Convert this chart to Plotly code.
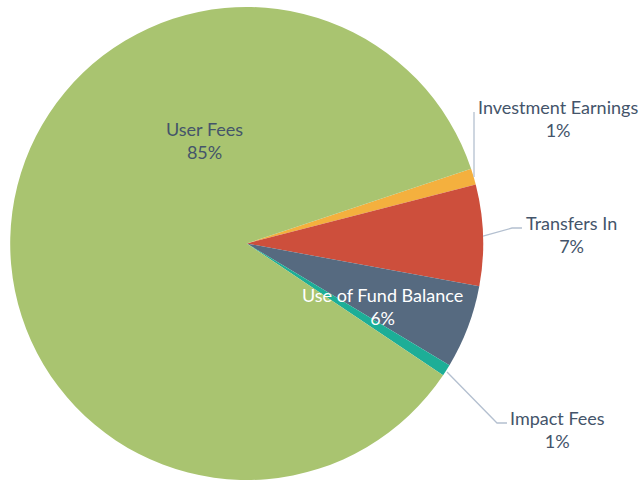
import plotly.graph_objects as go

labels = ["Investment Earnings", "Transfers In", "Use of Fund Balance", "Impact Fees", "User Fees"]
values = [1.1, 6.9, 5.7, 0.8, 85.4]
colors = ["#F4B03E", "#CD4F3C", "#566A80", "#1DAE97", "#A9C470"]

W, H = 641, 480
TXT = "#44546A"
LINE = "#B4C0D0"
FONT = "Lato"

fig = go.Figure(go.Pie(
    labels=labels,
    values=values,
    sort=False,
    direction="clockwise",
    rotation=71.6,
    marker=dict(colors=colors, line=dict(width=0)),
    textinfo="none",
    hoverinfo="label+percent",
    domain=dict(x=[(246.7 - 237) / W, (246.7 + 237) / W], y=[0.0, 0.9854]),
    showlegend=False,
))

total = sum(values)
pct = {l: f"{round(v / total * 100):.0f}%" for l, v in zip(labels, values)}

# label positions in pixels (centre of text block)
label_pos = {
    "User Fees": (204, 140, TXT),
    "Investment Earnings": (558, 118, TXT),
    "Transfers In": (571, 235, TXT),
    "Use of Fund Balance": (382, 306, "#FFFFFF"),
    "Impact Fees": (557, 429, TXT),
}

annotations = []
for lab, (px, py, col) in label_pos.items():
    annotations.append(dict(
        x=px / W, y=1 - py / H, xref="paper", yref="paper",
        text=f"{lab}<br>{pct[lab]}", showarrow=False,
        xanchor="center", yanchor="middle", align="center",
        font=dict(family=FONT, size=18, color=col),
    ))

leaders = [
    [(474, 112), (474, 177)],
    [(483, 236), (512, 228), (522, 228)],
    [(447, 372), (497, 423), (507, 423)],
]
shapes = []
for pts in leaders:
    path = "M " + " L ".join(f"{x / W:.5f},{1 - y / H:.5f}" for x, y in pts)
    shapes.append(dict(type="path", xref="paper", yref="paper", path=path,
                       line=dict(color=LINE, width=1.3)))

fig.update_layout(
    width=W, height=H,
    margin=dict(l=0, r=0, t=0, b=0),
    paper_bgcolor="white",
    plot_bgcolor="white",
    annotations=annotations,
    shapes=shapes,
    font=dict(family=FONT, color=TXT),
)

fig.write_html("out.html",
               config={"displayModeBar": False},
               post_script="document.body.style.margin='0';document.body.style.overflow='hidden';")
